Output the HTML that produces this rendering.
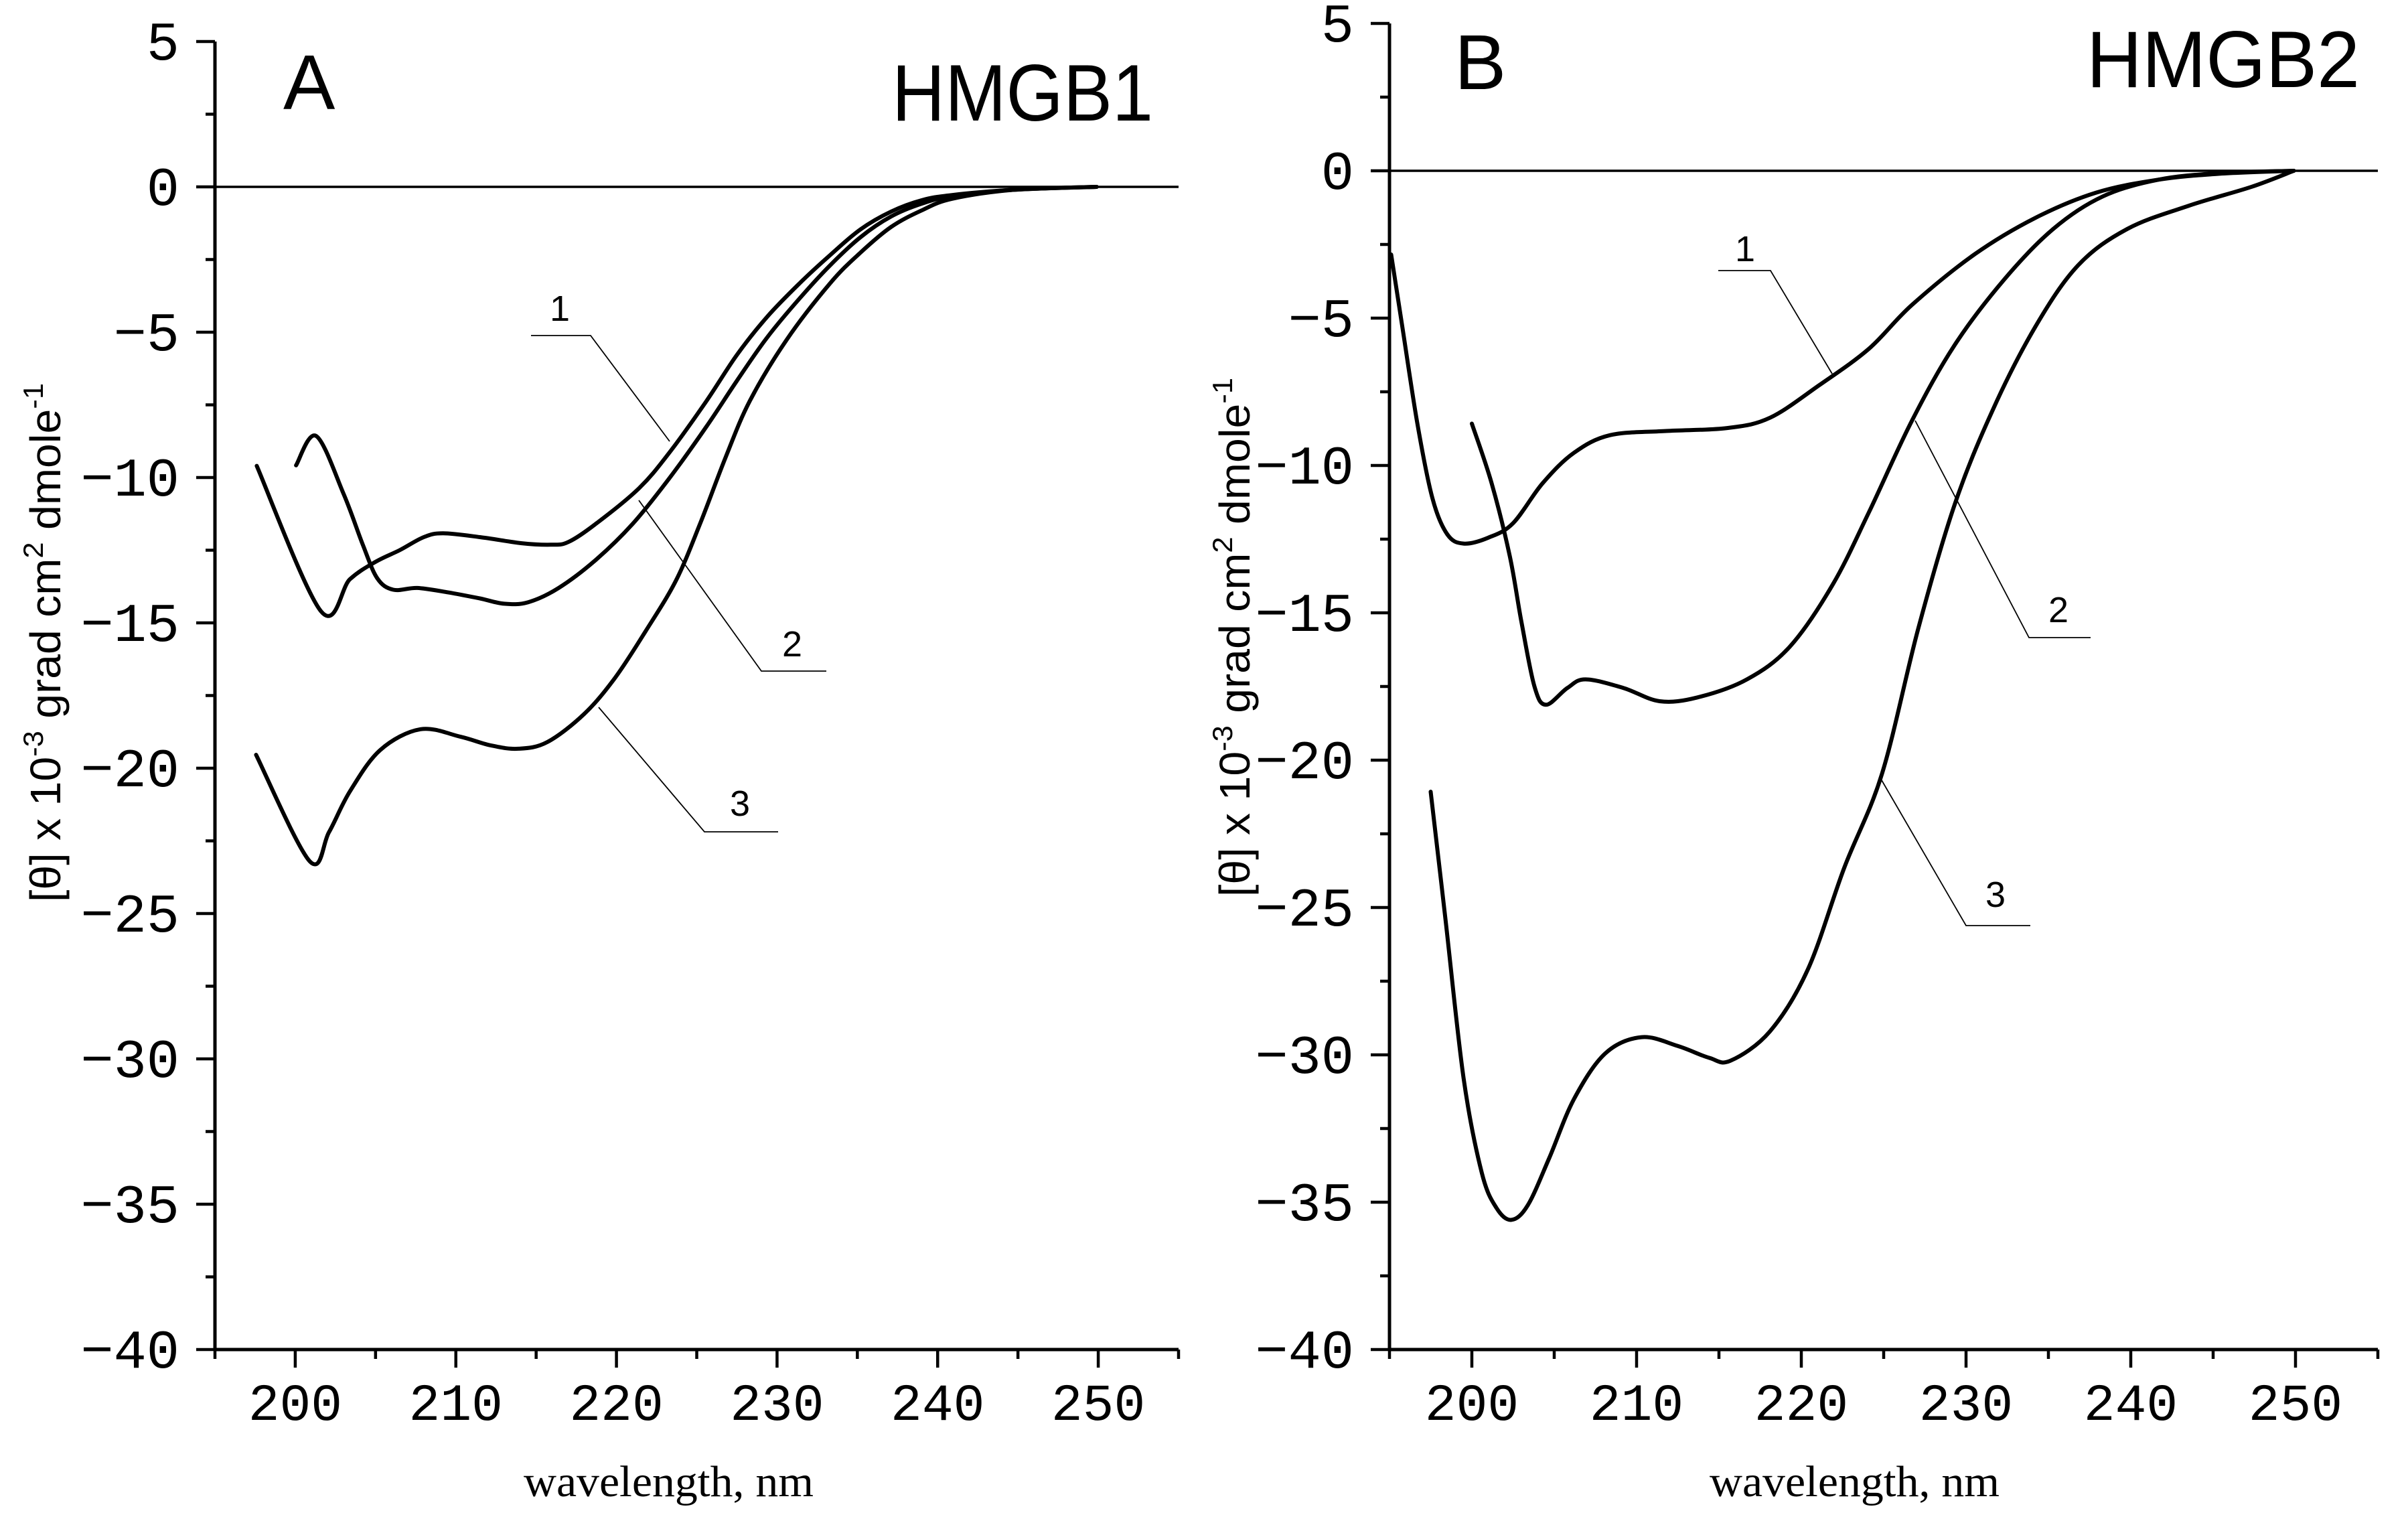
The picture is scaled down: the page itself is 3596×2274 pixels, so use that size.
<!DOCTYPE html>
<html><head><meta charset="utf-8"><title>CD spectra HMGB1 / HMGB2</title>
<style>html,body{margin:0;padding:0;background:#fff;}svg{display:block;}</style></head>
<body>
<svg id="chart" xmlns="http://www.w3.org/2000/svg" width="3596" height="2274" viewBox="0 0 3596 2274">
<rect x="0" y="0" width="3596" height="2274" fill="#ffffff"/>
<g id="panelA"></g>
<g id="panelB"></g>
</svg>
<script>
// ---- data (wavelength nm, [theta] x 1e-3) ----
const yTicks = [5, 0, -5, -10, -15, -20, -25, -30, -35, -40];
const xTicks = [200, 210, 220, 230, 240, 250];

const a1_wl = [197.6,201.6,203.4,205.0,206.5,208.0,209.2,211.5,214.1,215.9,217.0,218.7,221.4,223.3,225.6,227.5,229.4,231.4,233.3,235.2,237.1,239.0,240.9,244.8,249.9];
const a1_val = [-9.6,-14.6,-13.5,-12.9,-12.5,-12.05,-11.92,-12.05,-12.26,-12.31,-12.22,-11.6,-10.37,-9.14,-7.37,-5.78,-4.46,-3.32,-2.35,-1.46,-0.85,-0.46,-0.28,-0.1,0];
const a2_wl = [200.05,201.3,203.0,204.2,205.1,206.1,207.6,209.5,211.5,213.0,214.5,216.4,218.7,221.0,223.3,225.6,227.5,229.4,231.4,233.3,235.2,237.1,239.0,240.9,244.8,249.9];
const a2_val = [-9.58,-8.57,-10.55,-12.3,-13.46,-13.86,-13.8,-13.95,-14.16,-14.34,-14.29,-13.8,-12.84,-11.6,-10.02,-8.25,-6.67,-5.17,-3.84,-2.7,-1.73,-1.02,-0.58,-0.32,-0.1,0];
const a3_wl = [197.56,200.9,202.1,203.4,205.3,207.8,210.3,212.2,213.9,215.7,218.0,219.9,221.8,223.7,225.2,226.8,228.3,230.6,233.3,235.2,237.1,239.0,240.9,244.8,249.9];
const a3_val = [-19.54,-23.2,-22.2,-20.8,-19.37,-18.66,-18.92,-19.22,-19.33,-19.1,-18.13,-16.9,-15.3,-13.55,-11.6,-9.3,-7.37,-5.26,-3.32,-2.26,-1.38,-0.81,-0.41,-0.1,0];

const b1_wl = [195.1,195.75,196.7,197.6,198.5,199.5,201.0,202.5,204.3,206.2,208.4,211.8,215.5,218.1,221.1,224.1,226.7,230.5,234.2,237.9,241.7,245.4,249.9];
const b1_val = [-2.84,-5.18,-8.6,-11.1,-12.33,-12.65,-12.45,-11.96,-10.6,-9.57,-8.97,-8.83,-8.73,-8.38,-7.27,-6.04,-4.56,-2.84,-1.6,-0.74,-0.3,-0.1,0];
const b2_wl = [200.0,201.2,202.3,203.0,203.8,204.5,205.8,206.9,209.2,211.4,213.7,216.7,219.3,221.9,224.1,226.7,229.3,232.3,235.3,238.3,241.7,245.4,249.9];
const b2_val = [-8.58,-10.6,-13.07,-15.28,-17.5,-18.12,-17.55,-17.26,-17.55,-18.0,-17.87,-17.26,-16.15,-14.05,-11.59,-8.5,-5.92,-3.7,-1.97,-0.87,-0.3,-0.08,0];
const b3_wl = [197.5,198.4,199.5,200.6,201.5,202.4,203.4,204.7,206.2,208.1,210.3,212.5,214.4,215.7,218.1,220.4,222.6,224.9,227.1,229.3,231.6,234.2,236.8,239.8,243.5,247.3,249.9];
const b3_val = [-21.07,-25.4,-30.8,-34.0,-35.2,-35.6,-35.1,-33.5,-31.5,-29.95,-29.4,-29.7,-30.1,-30.2,-29.2,-27.1,-23.66,-20.46,-15.53,-11.34,-8.14,-5.3,-3.21,-1.97,-1.19,-0.55,0];

const NS = "http://www.w3.org/2000/svg";
function mk(parent, tag, attrs, text) {
  const e = document.createElementNS(NS, tag);
  for (const k in attrs) e.setAttribute(k, attrs[k]);
  if (text !== undefined) e.textContent = text;
  parent.appendChild(e);
  return e;
}
function smoothPath(pts) {
  let d = "M" + pts[0][0].toFixed(1) + "," + pts[0][1].toFixed(1);
  for (let i = 0; i < pts.length - 1; i++) {
    const p0 = pts[Math.max(i - 1, 0)], p1 = pts[i], p2 = pts[i + 1], p3 = pts[Math.min(i + 2, pts.length - 1)];
    const c1x = p1[0] + (p2[0] - p0[0]) / 6, c1y = p1[1] + (p2[1] - p0[1]) / 6;
    const c2x = p2[0] - (p3[0] - p1[0]) / 6, c2y = p2[1] - (p3[1] - p1[1]) / 6;
    d += " C" + c1x.toFixed(1) + "," + c1y.toFixed(1) + " " + c2x.toFixed(1) + "," + c2y.toFixed(1) + " " + p2[0].toFixed(1) + "," + p2[1].toFixed(1);
  }
  return d;
}

function drawPanel(g, cfg) {
  const X = wl => cfg.x0 + (wl - 195) * (cfg.x1 - cfg.x0) / 60;
  const Y = v => cfg.yTop + (5 - v) * (cfg.yBot - cfg.yTop) / 45;
  const zl = mk(g, "line", {x1: X(195), y1: Y(0), x2: X(255), y2: Y(0), stroke: "#000", "stroke-width": 3.5});
  
  
  const ya = mk(g, "line", {x1: X(195), y1: Y(5), x2: X(195), y2: Y(-40) + 2, stroke: "#000", "stroke-width": 5});
  
  
  const xa = mk(g, "line", {x1: X(195) - 2, y1: Y(-40), x2: X(255), y2: Y(-40), stroke: "#000", "stroke-width": 5});
  
  
  for (let v = 5; v >= -40; v -= 2.5) {
    const major = (v % 5 === 0);
    const t = mk(g, "line", {x1: X(195) - (major ? 28 : 14), y1: Y(v), x2: X(195), y2: Y(v), stroke: "#000", "stroke-width": 4.5});
    
    
  }
  yTicks.forEach(v => {
    const lbl = v < 0 ? "\u2212" + Math.abs(v) : String(v);
    const t = mk(g, "text", {x: X(195) - 53, y: Y(v) + 27, "text-anchor": "end", "font-family": "Liberation Mono, monospace", "font-size": 82, fill: "#000"}, lbl);
    
    
  });
  for (let w = 195; w <= 255; w += 5) {
    const major = (w % 10 === 0);
    const t = mk(g, "line", {x1: X(w), y1: Y(-40), x2: X(w), y2: Y(-40) + (major ? 27 : 14), stroke: "#000", "stroke-width": 4.5});
    
    
  }
  xTicks.forEach(w => {
    const t = mk(g, "text", {x: X(w), y: 2120, "text-anchor": "middle", "font-family": "Liberation Mono, monospace", "font-size": 78, fill: "#000"}, String(w));
    
    
  });
  const xt = mk(g, "text", {x: cfg.xlabCx - 216, y: 2234, "font-family": "Liberation Serif, serif", "font-size": 66, textLength: 433, lengthAdjust: "spacingAndGlyphs", fill: "#000"}, "wavelength, nm");
  
  
  const yt = mk(g, "text", {transform: "translate(" + cfg.ylabX + "," + cfg.ylabCy + ") rotate(-90)", x: -387, y: 0, "font-family": "Liberation Sans, sans-serif", "font-size": 64, textLength: 775, lengthAdjust: "spacingAndGlyphs", fill: "#000"});
  
  
  yt.innerHTML = '[θ] x 10<tspan dy="-26" font-size="42">-3</tspan><tspan dy="26"> grad cm</tspan><tspan dy="-26" font-size="42">2</tspan><tspan dy="26"> dmole</tspan><tspan dy="-26" font-size="42">-1</tspan>';
  const pl = mk(g, "text", {x: cfg.letterX, y: cfg.letterY, "font-family": "Liberation Sans, sans-serif", "font-size": 116, fill: "#000"}, cfg.letter);
  
  
  const pt = mk(g, "text", {x: cfg.titleX, y: cfg.titleY, "font-family": "Liberation Sans, sans-serif", "font-size": 120, textLength: cfg.titleW, lengthAdjust: "spacingAndGlyphs", fill: "#000"}, cfg.title);
  
  
  cfg.series.forEach((s, i) => {
    const pts = s.wl.map((w, k) => [X(w), Y(s.val[k])]);
    const p = mk(g, "path", {d: smoothPath(pts), fill: "none", stroke: "#000", "stroke-width": 6, "stroke-linejoin": "round", "stroke-linecap": "round"});
    
    
  });
  cfg.leaders.forEach((L, i) => {
    const pl2 = mk(g, "polyline", {points: L.tipX + "," + L.tipY + " " + L.x1 + "," + L.ly + " " + L.x2 + "," + L.ly, fill: "none", stroke: "#000", "stroke-width": 1.8});
    
    
    const tx = mk(g, "text", {x: L.tx, y: L.ty, "text-anchor": "middle", "font-family": "Liberation Sans, sans-serif", "font-size": 54, fill: "#000"}, String(i + 1));
    
    
  });
}

drawPanel(document.getElementById("panelA"), {
  x0: 321, x1: 1760, yTop: 62, yBot: 2015,
  xlabCx: 998, ylabX: 90, ylabCy: 960,
  letter: "A", letterX: 423, letterY: 163,
  title: "HMGB1", titleX: 1332, titleY: 180, titleW: 390,
  series: [{wl: a1_wl, val: a1_val}, {wl: a2_wl, val: a2_val}, {wl: a3_wl, val: a3_val}],
  leaders: [
    {tipX: 1000, tipY: 659, x1: 882, x2: 793, ly: 501, tx: 836, ty: 479},
    {tipX: 954, tipY: 747, x1: 1137, x2: 1234, ly: 1002, tx: 1183, ty: 980},
    {tipX: 894, tipY: 1056, x1: 1052, x2: 1162, ly: 1242, tx: 1105, ty: 1218}
  ]
});
drawPanel(document.getElementById("panelB"), {
  x0: 2075, x1: 3551, yTop: 35, yBot: 2015,
  xlabCx: 2769, ylabX: 1866, ylabCy: 952,
  letter: "B", letterX: 2172, letterY: 133,
  title: "HMGB2", titleX: 3116, titleY: 130, titleW: 408,
  series: [{wl: b1_wl, val: b1_val}, {wl: b2_wl, val: b2_val}, {wl: b3_wl, val: b3_val}],
  leaders: [
    {tipX: 2736, tipY: 558, x1: 2644, x2: 2566, ly: 404, tx: 2606, ty: 390},
    {tipX: 2860, tipY: 628, x1: 3030, x2: 3122, ly: 952, tx: 3074, ty: 929},
    {tipX: 2810, tipY: 1165, x1: 2936, x2: 3032, ly: 1382, tx: 2980, ty: 1354}
  ]
});
</script>
</body></html>
